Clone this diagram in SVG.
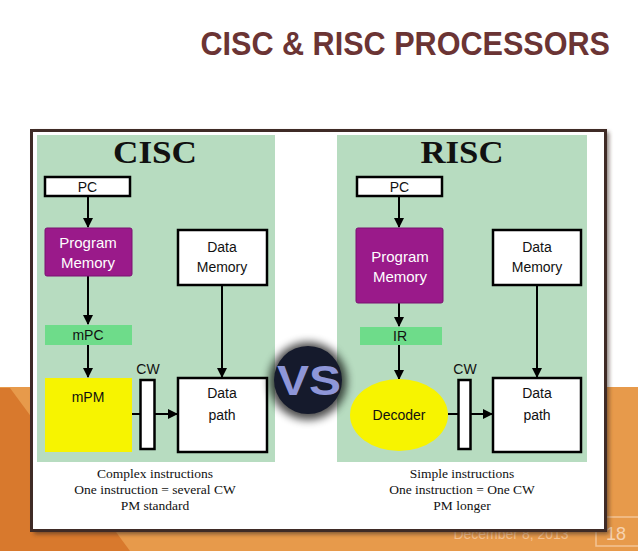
<svg xmlns="http://www.w3.org/2000/svg" width="638" height="551" viewBox="0 0 638 551">
<style>
.box{fill:#fff;stroke:#000;stroke-width:2.5}
.pm{fill:#9a1a8a;stroke:#7a1070;stroke-width:1}
.reg{fill:#6edc8a}
.lbl{font-family:"Liberation Sans",Arial,sans-serif;font-size:14px;fill:#111;text-anchor:middle}
.wl{font-family:"Liberation Sans",Arial,sans-serif;font-size:15px;fill:#fff;text-anchor:middle}
.cap{font-family:"Liberation Serif","Times New Roman",serif;font-size:13.5px;fill:#111;text-anchor:middle}
.hd{font-family:"Liberation Serif","Times New Roman",serif;font-size:31px;font-weight:bold;fill:#111;text-anchor:middle}
.ln{stroke:#000;stroke-width:2;fill:none}
</style>
<defs>
<marker id="ah" viewBox="0 0 10 10" refX="9" refY="5" markerWidth="5" markerHeight="5" orient="auto"><path d="M0,0L10,5L0,10z" fill="#000"/></marker>
<filter id="blur" x="-50%" y="-50%" width="200%" height="200%"><feGaussianBlur stdDeviation="4"/></filter>
<filter id="sh" x="-5%" y="-5%" width="110%" height="110%"><feGaussianBlur stdDeviation="2"/></filter>
</defs>
<rect width="638" height="551" fill="#fff"/>
<rect x="0" y="387" width="638" height="164" fill="#e79a4b"/>
<polygon points="0,388 10,388 130,551 0,551" fill="#d8792d"/>
<text x="511" y="539" font-family="Liberation Sans,Arial,sans-serif" font-size="14" fill="#f6c290" text-anchor="middle">December 8, 2013</text>
<rect x="596" y="517" width="46" height="29" fill="none" stroke="#f3c495" stroke-width="1.5"/>
<text x="616" y="540" font-family="Liberation Sans,Arial,sans-serif" font-size="18" fill="#f6d2ae" text-anchor="middle">18</text>
<text transform="translate(610,55) scale(0.9,1)" x="0" y="0" font-family="Liberation Sans,Arial,sans-serif" font-size="34" font-weight="bold" fill="#6b3434" text-anchor="end">CISC &amp; RISC PROCESSORS</text>
<rect x="34" y="132" width="575" height="402" fill="#3a2a24" opacity="0.6" filter="url(#sh)"/>
<rect x="31.5" y="130.5" width="574" height="400" fill="#fff" stroke="#3f2b26" stroke-width="3"/>
<g id="cisc">
<rect x="37" y="135" width="238" height="327" fill="#b7dcc0"/>
<text class="hd" x="155" y="163" textLength="84" lengthAdjust="spacingAndGlyphs">CISC</text>
</g>
<g id="risc">
<rect x="337" y="135" width="250" height="327" fill="#b7dcc0"/>
<text class="hd" x="462" y="163" textLength="83" lengthAdjust="spacingAndGlyphs">RISC</text>
</g>
<g id="connectors">
<line class="ln" x1="88" y1="196" x2="88" y2="227" marker-end="url(#ah)"/>
<line class="ln" x1="88" y1="276" x2="88" y2="324" marker-end="url(#ah)"/>
<line class="ln" x1="88" y1="345" x2="88" y2="377" marker-end="url(#ah)"/>
<line class="ln" x1="132" y1="414" x2="140" y2="414"/>
<line class="ln" x1="155" y1="414" x2="177" y2="414" marker-end="url(#ah)"/>
<line class="ln" x1="222" y1="285" x2="222" y2="377" marker-end="url(#ah)"/>
<line class="ln" x1="399" y1="196" x2="399" y2="227" marker-end="url(#ah)"/>
<line class="ln" x1="399" y1="303" x2="399" y2="326" marker-end="url(#ah)"/>
<line class="ln" x1="399" y1="345" x2="399" y2="379" marker-end="url(#ah)"/>
<line class="ln" x1="448" y1="414" x2="458" y2="414"/>
<line class="ln" x1="471" y1="414" x2="492" y2="414" marker-end="url(#ah)"/>
<line class="ln" x1="537" y1="285" x2="537" y2="377" marker-end="url(#ah)"/>
</g>
<g id="c-pc"><rect class="box" x="45" y="177" width="85" height="19"/><text class="lbl" x="87.5" y="192">PC</text></g>
<g id="c-pm"><rect class="pm" x="45" y="228" width="87" height="48" rx="2"/><text class="wl" x="88" y="248">Program</text><text class="wl" x="88" y="268">Memory</text></g>
<g id="c-mpc"><rect class="reg" x="45" y="325" width="87" height="20"/><text class="lbl" x="88" y="340">mPC</text></g>
<g id="c-mpm"><rect x="45" y="378" width="87" height="74" fill="#f7f400"/><text class="lbl" x="88" y="402">mPM</text></g>
<g id="c-cw"><rect class="box" x="140.5" y="380" width="14" height="69"/><text class="lbl" x="148" y="374" font-size="13">CW</text></g>
<g id="c-dm"><rect class="box" x="178" y="230" width="89" height="55"/><text class="lbl" x="222" y="252">Data</text><text class="lbl" x="222" y="272">Memory</text></g>
<g id="c-dp"><rect class="box" x="178" y="378" width="89" height="74"/><text class="lbl" x="222" y="398">Data</text><text class="lbl" x="222" y="420">path</text></g>
<g id="c-cap"><text class="cap" x="155" y="478">Complex instructions</text><text class="cap" x="155" y="494">One instruction = several CW</text><text class="cap" x="155" y="510">PM standard</text></g>
<g id="r-pc"><rect class="box" x="357" y="177" width="85" height="19"/><text class="lbl" x="399.5" y="192">PC</text></g>
<g id="r-pm"><rect class="pm" x="356" y="228" width="87" height="75" rx="2"/><text class="wl" x="400" y="262">Program</text><text class="wl" x="400" y="282">Memory</text></g>
<g id="r-ir"><rect class="reg" x="360" y="327" width="82" height="18"/><text class="lbl" x="400" y="341">IR</text></g>
<g id="r-dec"><ellipse cx="399" cy="415" rx="49" ry="36" fill="#f7f400"/><text class="lbl" x="399" y="420" font-size="13">Decoder</text></g>
<g id="r-cw"><rect class="box" x="458.5" y="380" width="12" height="69"/><text class="lbl" x="465" y="374" font-size="13">CW</text></g>
<g id="r-dm"><rect class="box" x="493" y="230" width="88" height="55"/><text class="lbl" x="537" y="252">Data</text><text class="lbl" x="537" y="272">Memory</text></g>
<g id="r-dp"><rect class="box" x="493" y="378" width="88" height="74"/><text class="lbl" x="537" y="398">Data</text><text class="lbl" x="537" y="420">path</text></g>
<g id="r-cap"><text class="cap" x="462" y="478">Simple instructions</text><text class="cap" x="462" y="494">One instruction = One CW</text><text class="cap" x="462" y="510">PM longer</text></g>
<g id="vs">
<circle cx="308" cy="381" r="39" fill="#000" opacity="0.7" filter="url(#blur)"/>
<circle cx="308" cy="380" r="34" fill="#151a2c"/>
<text x="309" y="395" font-family="Liberation Sans,Arial,sans-serif" font-size="42" font-weight="bold" fill="#8e96d8" text-anchor="middle" textLength="64" lengthAdjust="spacingAndGlyphs">VS</text>
</g>
</svg>
